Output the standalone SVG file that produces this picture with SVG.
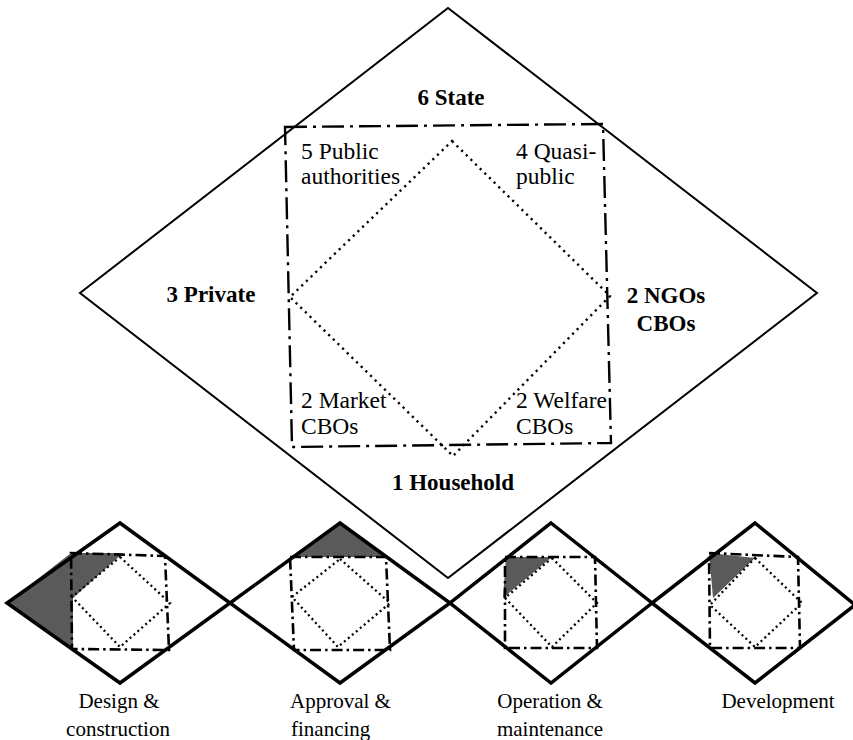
<svg xmlns="http://www.w3.org/2000/svg" width="853" height="740" viewBox="0 0 853 740">
<style>
.big{fill:none;stroke:#000;stroke-width:2}
.dd{fill:none;stroke:#000;stroke-width:2.4;stroke-dasharray:22 6 3 6}
.dot{fill:none;stroke:#000;stroke-width:2.4;stroke-dasharray:2.2 4.3}
.sm{fill:none;stroke:#000;stroke-width:3.5;stroke-linejoin:miter}
.sdd{fill:none;stroke:#000;stroke-width:2.6;stroke-dasharray:11 4 2.5 4}
.sdot{fill:none;stroke:#000;stroke-width:2.3;stroke-dasharray:2 3.2}
.g{fill:#5a5a5a;stroke:none}
text{font-family:"Liberation Serif","Times New Roman",serif;fill:#000}
.lb{font-size:23.5px}
.bd{font-size:23px;font-weight:bold}
.cap{font-size:21px}
</style>
<g id="main">
<polygon class="big" points="448,8 817,293 448,578 80,293"/>
<polygon class="dd" points="285,127 603,124 611,443 292,447"/>
<polygon class="dot" points="452,141 610,296 453,456 290,297"/>
<text class="bd" x="451" y="105" text-anchor="middle">6 State</text>
<text class="bd" x="211" y="302" text-anchor="middle">3 Private</text>
<text class="bd" x="666" y="303" text-anchor="middle">2 NGOs</text>
<text class="bd" x="666" y="331" text-anchor="middle">CBOs</text>
<text class="bd" x="453" y="490" text-anchor="middle">1 Household</text>
<text class="lb" x="301" y="159">5 Public</text>
<text class="lb" x="301" y="184">authorities</text>
<text class="lb" x="516" y="159">4 Quasi-</text>
<text class="lb" x="516" y="184">public</text>
<text class="lb" x="301" y="408">2 Market</text>
<text class="lb" x="301" y="434">CBOs</text>
<text class="lb" x="516" y="408">2 Welfare</text>
<text class="lb" x="516" y="434">CBOs</text>
</g>
<g id="design">
<polygon class="g" points="7,603 71,553 123,553 73,598 73,649"/>
<polygon class="sm" points="120,523 230,603 120,683 7,603"/>
<polygon class="sdd" points="71,553 165,556 169,650 72,649"/>
<polygon class="sdot" points="120,557 170,603 120,647 72,597"/>
<text class="cap" x="119" y="708" text-anchor="middle">Design &amp;</text>
<text class="cap" x="118" y="736" text-anchor="middle">construction</text>
</g>
<g id="approval">
<polygon class="g" points="290,557 340,523 387,557"/>
<polygon class="sm" points="340,523 450,603 340,683 230,603"/>
<polygon class="sdd" points="290,557 386,557 390,650 294,650"/>
<polygon class="sdot" points="340,559 390,603 338,647 292,597"/>
<text class="cap" x="290" y="708">Approval &amp;</text>
<text class="cap" x="291" y="736">financing</text>
</g>
<g id="operation">
<polygon class="g" points="506,557 552,557 503,598"/>
<polygon class="sm" points="551,523 652,603 551,683 450,603"/>
<polygon class="sdd" points="505,557 595,557 597,648 505,648"/>
<polygon class="sdot" points="552,558 597,603 552,647 505,598"/>
<text class="cap" x="550" y="708" text-anchor="middle">Operation &amp;</text>
<text class="cap" x="550" y="736" text-anchor="middle">maintenance</text>
</g>
<g id="development">
<polygon class="g" points="709,553 755,558 713,598"/>
<polygon class="sm" points="755,523 855,605 755,683 652,603"/>
<polygon class="sdd" points="709,553 798,557 800,648 710,648"/>
<polygon class="sdot" points="755,558 802,603 755,647 710,605"/>
<text class="cap" x="778" y="708" text-anchor="middle">Development</text>
</g>
</svg>
